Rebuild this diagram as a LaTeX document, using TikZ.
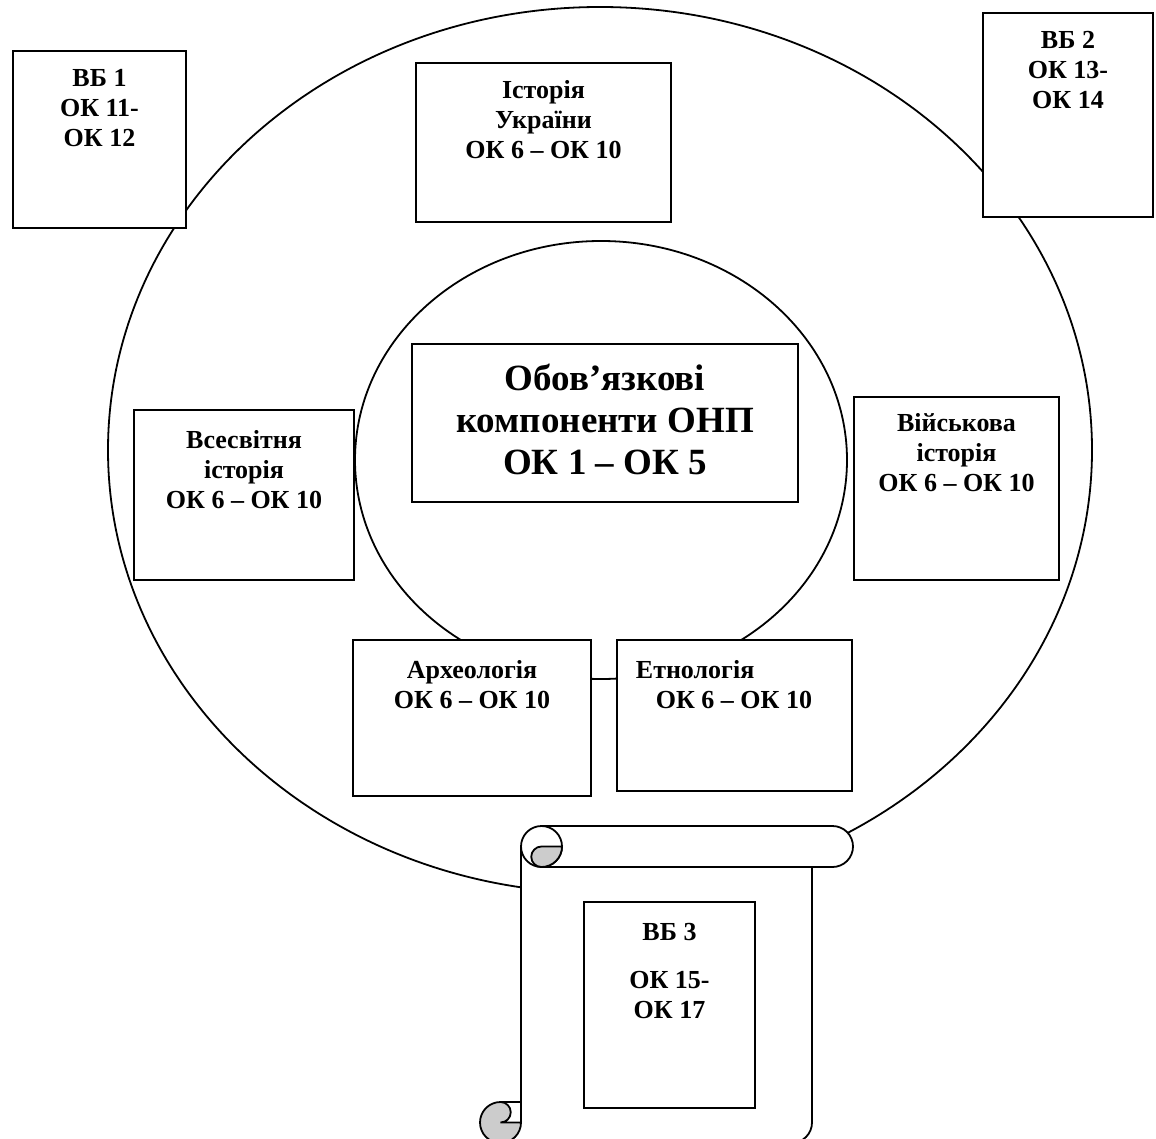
\documentclass[tikz,border=0pt]{standalone}
\usepackage{fontspec}
\setmainfont{Liberation Serif}
\usetikzlibrary{positioning}
\definecolor{csirij}{RGB}{204,204,204}

\begin{document}
\begin{tikzpicture}[x=0.5pt, y=-0.5pt, line width=0.9pt,
    blok/.style={draw, line width=1pt, fill=white, inner sep=0pt, anchor=north west},
    txt/.style={inner sep=0pt, align=center, font=\fontsize{13}{15}\selectfont\bfseries},
    golovn/.style={inner sep=0pt, align=center, font=\fontsize{18.5}{21}\selectfont\bfseries}]

  \useasboundingbox (0,0) rectangle (1156,1139);

  % зовнішнє та внутрішнє кола
  \draw (600,450) ellipse [x radius=492, y radius=443];
  \draw (601,460) ellipse [x radius=246, y radius=219];

  % блоки
  \node[blok, minimum width=86.5pt, minimum height=88.5pt] (vb1) at (12,50) {};
  \node[blok, minimum width=127.5pt, minimum height=79.5pt] (ukr) at (415,62) {};
  \node[blok, minimum width=85pt, minimum height=102pt] (vb2) at (982,12) {};
  \node[blok, minimum width=193pt, minimum height=79pt] (core) at (411,343) {};
  \node[blok, minimum width=110pt, minimum height=85pt] (world) at (133,409) {};
  \node[blok, minimum width=102.5pt, minimum height=91.5pt] (mil) at (853,396) {};
  \node[blok, minimum width=119pt, minimum height=78pt] (arch) at (352,639) {};
  \node[blok, minimum width=117.5pt, minimum height=75.5pt] (ethno) at (616,639) {};

  \node[txt, below=9pt of vb1.north] (vb1t) {ВБ 1\\ОК 11-\\ОК 12};
  \node[txt, below=9pt of ukr.north] (ukrt) {Історія\\України\\ОК 6 – ОК 10};
  \node[txt, below=9pt of vb2.north] (vb2t) {ВБ 2\\ОК 13-\\ОК 14};
  \node[golovn, below=10pt of core.north] (coret) {Обов’язкові\\компоненти ОНП\\ОК 1 – ОК 5};
  \node[txt, below=10.5pt of world.north] (worldt) {Всесвітня\\історія\\ОК 6 – ОК 10};
  \node[txt, below=8.5pt of mil.north] (milt) {Військова\\історія\\ОК 6 – ОК 10};
  \node[txt, below=10.5pt of arch.north] (archt) {Археологія\\ОК 6 – ОК 10};
  \node[txt, align=left, below right=10.5pt and 9.5pt of ethno.north west] (ethnot) {Етнологія\\\hspace*{10pt}ОК 6 – ОК 10};

  % сувій
  \fill[white] (521,846.5) arc[start angle=180, end angle=270, radius=20.5] -- (832.5,826)
    arc[start angle=270, end angle=450, radius=20.5] -- (812,867) -- (812,1122.5)
    arc[start angle=0, end angle=90, radius=20.5] -- (500.5,1143)
    arc[start angle=90, end angle=270, radius=20.5] -- (521,1102) -- cycle;
  \draw (541.5,826) -- (832.5,826) arc[start angle=270, end angle=450, radius=20.5] -- (541.5,867);
  \draw (541.5,846.5) circle[radius=20.5];
  \filldraw[fill=csirij] (541.5,846.5) -- (562,846.5) arc[start angle=0, end angle=90, radius=20.5]
    arc[start angle=90, end angle=270, radius=10.25] -- cycle;
  \draw (521,846.5) -- (521,1122.5);
  \draw (812,867) -- (812,1122.5) arc[start angle=0, end angle=90, radius=20.5] -- (500.5,1143);
  \filldraw[fill=csirij] (500.5,1102) arc[start angle=270, end angle=450, radius=10.25] -- (521,1122.5)
    arc[start angle=0, end angle=270, radius=20.5] -- cycle;
  \draw (500.5,1102) -- (521,1102);

  \node[blok, minimum width=85.5pt, minimum height=103pt] (vb3) at (583,901) {};
  \node[txt, below=10.5pt of vb3.north] (vb3t) {ВБ 3\\[9pt]ОК 15-\\ОК 17};
\end{tikzpicture}
\end{document}
